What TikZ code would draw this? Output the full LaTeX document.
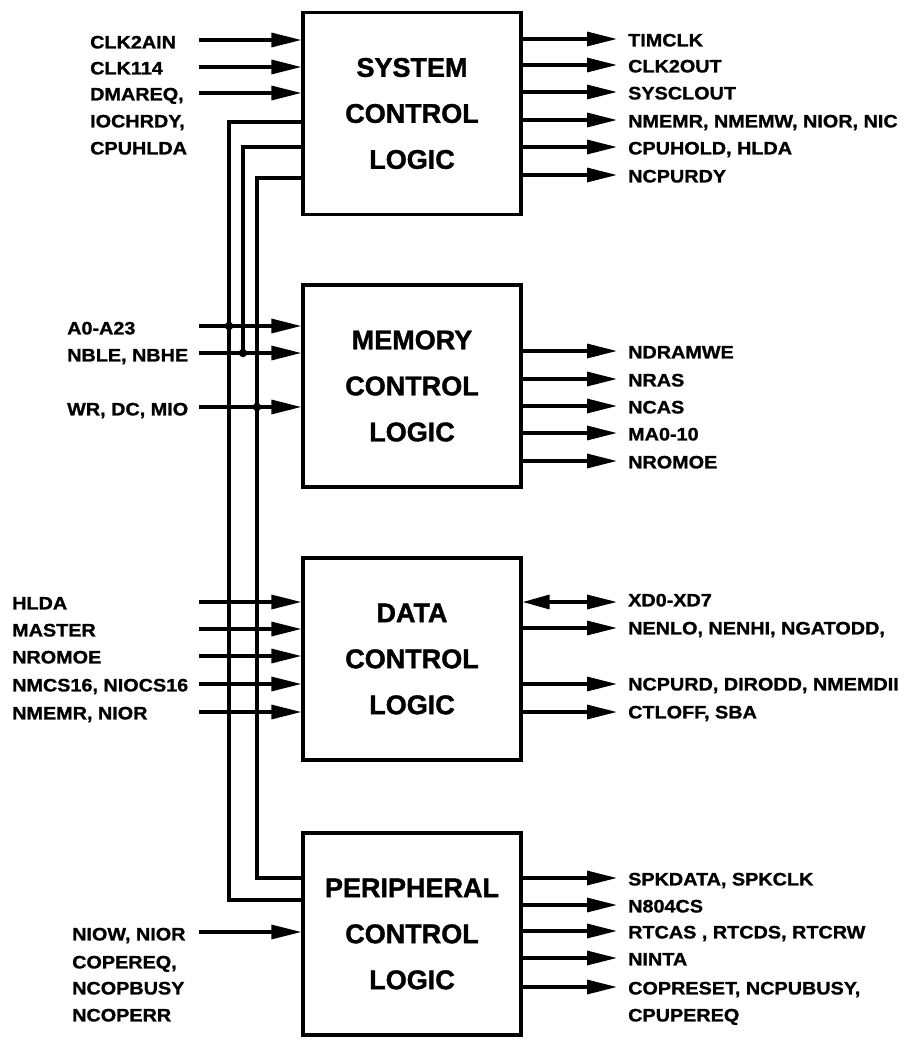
\documentclass[tikz,border=0pt]{standalone}
\usepackage{fontspec}
\setmainfont{Liberation Sans}
\newfontfamily\sigfont{Liberation Sans}[FakeStretch=1.1,FakeBold=1.2]
\newfontfamily\blockfont{Liberation Sans}[FakeBold=1.4]
\usetikzlibrary{arrows.meta}

\begin{document}
\begin{tikzpicture}[x=1pt,y=-1pt,
  wire/.style={line width=3.2pt},
  sig/.style={wire,-{Triangle[length=30pt,width=14pt]}},
  bisig/.style={wire,{Triangle[length=27pt,width=14pt]}-{Triangle[length=30pt,width=14pt]}},
  block/.style={draw,line width=3.2pt,minimum width=218pt,minimum height=202pt,
    inner sep=0pt,align=center,font=\blockfont\fontsize{27}{46}\selectfont\bfseries},
  lbl/.style={anchor=base west,yshift=-6.4pt,inner sep=0pt,
    font=\sigfont\fontsize{18}{18}\selectfont\bfseries},
  junction/.style={circle,fill,inner sep=0pt,minimum size=8.5pt}]

\fill[white] (0,0) rectangle (907,1041);
\useasboundingbox (0,0) rectangle (907,1041);
\clip (0,0) rectangle (907,1041);

% ---------------- the four logic blocks ----------------
\node[block] (sys) at (412,113.5) {SYSTEM\\CONTROL\\LOGIC};
\node[block] (mem) at (412,386)   {MEMORY\\CONTROL\\LOGIC};
\node[block] (dat) at (412,659)   {DATA\\CONTROL\\LOGIC};
\node[block] (per) at (412,934)   {PERIPHERAL\\CONTROL\\LOGIC};

% ---------------- system control logic ----------------
\foreach \y/\t [count=\i] in {42/CLK2AIN,68/CLK114,94/{DMAREQ,},121/{IOCHRDY,},148/CPUHLDA}
  \node[lbl] (sysin\i) at (90,\y) {\t};
\foreach \y [count=\i] in {40,67,93} {
  \coordinate (si\i) at (199,\y);
  \draw[sig] (si\i) -- (si\i -| sys.west);
}
\foreach \y/\t [count=\i] in {39/TIMCLK,65/CLK2OUT,92/SYSCLOUT,120/{NMEMR, NMEMW, NIOR, NIC},147/{CPUHOLD, HLDA},175/NCPURDY} {
  \coordinate (so\i) at (617,\y);
  \draw[sig] (so\i -| sys.east) -- (so\i);
  \node[lbl] (sysout\i) at (628,\y+1) {\t};
}

% ---------------- shared bus lines on the left ----------------
\coordinate (b1) at (229,122);
\coordinate (b2) at (243,147);
\coordinate (b3) at (257,178);
\coordinate (b1end) at (229,900);
\coordinate (b2end) at (243,353);
\coordinate (b3end) at (257,878);
\draw[wire] (b1 -| sys.west) -- (b1) -- (b1end) -- (b1end -| per.west);
\draw[wire] (b2 -| sys.west) -- (b2) -- (b2end);
\draw[wire] (b3 -| sys.west) -- (b3) -- (b3end) -- (b3end -| per.west);

% ---------------- memory control logic ----------------
\foreach \y/\t [count=\i] in {328/A0-A23,355/{NBLE, NBHE},409/{WR, DC, MIO}}
  \node[lbl] (memin\i) at (67,\y) {\t};
\foreach \y [count=\i] in {326,353,407} {
  \coordinate (mi\i) at (199,\y);
  \draw[sig] (mi\i) -- (mi\i -| mem.west);
}
\node[junction] (j1) at (229,326) {};
\node[junction] (j2) at (243,353) {};
\node[junction] (j3) at (257,407) {};
\foreach \y/\t [count=\i] in {351/NDRAMWE,379/NRAS,406/NCAS,433/MA0-10,461/NROMOE} {
  \coordinate (mo\i) at (617,\y);
  \draw[sig] (mo\i -| mem.east) -- (mo\i);
  \node[lbl] (memout\i) at (628,\y+1) {\t};
}

% ---------------- data control logic ----------------
\foreach \y/\t [count=\i] in {602/HLDA,629/MASTER,656/NROMOE,684/{NMCS16, NIOCS16},712/{NMEMR, NIOR}} {
  \coordinate (di\i) at (199,\y);
  \draw[sig] (di\i) -- (di\i -| dat.west);
  \node[lbl] (datin\i) at (12,\y+1) {\t};
}
\coordinate (do1) at (617,602);
\draw[bisig] (do1 -| dat.east) -- (do1);
\node[lbl] (datout1) at (628,600) {XD0-XD7};
\foreach \y/\t [count=\i from 2] in {628/{NENLO, NENHI, NGATODD,},684/{NCPURD, DIRODD, NMEMDII},712/{CTLOFF, SBA}} {
  \coordinate (do\i) at (617,\y);
  \draw[sig] (do\i -| dat.east) -- (do\i);
  \node[lbl] (datout\i) at (628,\y) {\t};
}

% ---------------- peripheral control logic ----------------
\coordinate (pi1) at (199,932);
\draw[sig] (pi1) -- (pi1 -| per.west);
\foreach \y/\t [count=\i] in {934/{NIOW, NIOR},962/{COPEREQ,},988/NCOPBUSY,1015/NCOPERR}
  \node[lbl] (perin\i) at (72,\y) {\t};
\foreach \y/\t [count=\i] in {878/{SPKDATA, SPKCLK},905/N804CS,931/{RTCAS , RTCDS, RTCRW},958/NINTA,987/{COPRESET, NCPUBUSY,}} {
  \coordinate (po\i) at (617,\y);
  \draw[sig] (po\i -| per.east) -- (po\i);
  \node[lbl] (perout\i) at (628,\y+1) {\t};
}
\node[lbl] (perout6) at (628,1015) {CPUPEREQ};

\end{tikzpicture}
\end{document}
